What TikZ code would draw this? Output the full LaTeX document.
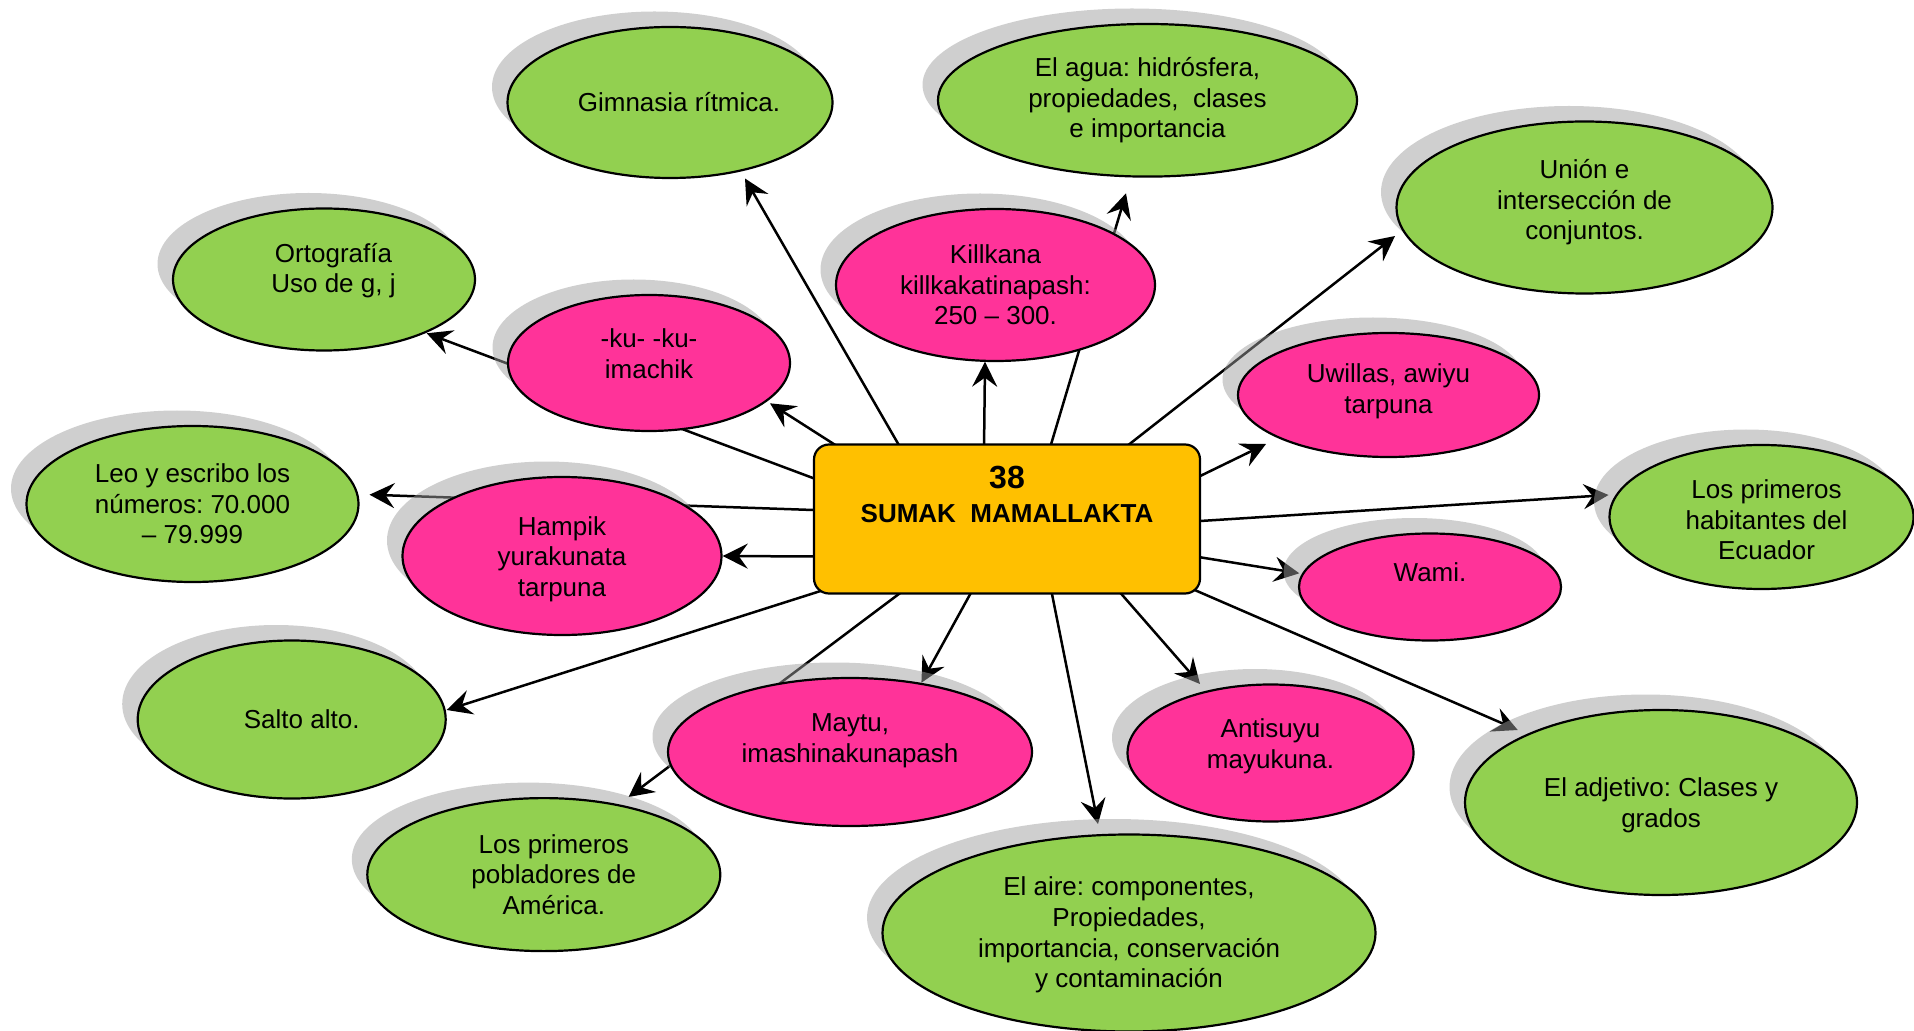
\documentclass[tikz,border=0pt]{standalone}
\usepackage{fontspec}
\setmainfont{Liberation Sans}
\frenchspacing
\usetikzlibrary{calc}
\usetikzlibrary{shadows}
\usetikzlibrary{shapes.geometric}
\usetikzlibrary{arrows.meta}
\definecolor{leafGreen}{RGB}{146,208,80}
\definecolor{rosePink}{RGB}{255,51,153}
\definecolor{boxGold}{RGB}{255,192,0}
\definecolor{shadowGray}{RGB}{158,158,158}
\pgfdeclarelayer{background}
\pgfdeclarelayer{foreground}
\pgfsetlayers{background,main,foreground}

\begin{document}
\begin{tikzpicture}[x=0.5pt,y=-0.5pt,
  blob/.style={ellipse, draw=black, line width=1.1pt, inner sep=0pt,
    drop shadow={shadow xshift=-7.75pt, shadow yshift=7.75pt, fill=shadowGray, opacity=0.49}},
  blobtext/.style={align=center, inner sep=0pt, font=\fontsize{13}{15.3}\selectfont},
  mainbox/.style={rectangle, rounded corners=7.5pt, draw=black, line width=1.1pt, fill=boxGold,
    inner sep=0pt, minimum width=193pt, minimum height=74.5pt},
  link/.style={line width=1.25pt, -{Stealth[length=12.5pt,width=12.5pt,inset=4.5pt]}},
  ]
\newcommand\Blob[9]{%
  \node[blob, fill=#2, minimum width=#5pt, minimum height=#6pt] (#1) at (#3,#4) {};
  \node[blobtext] (#1t) at ($(#1)+(#7,#8)$) {#9};}
\useasboundingbox (0,0) rectangle (1914,1031);

\Blob{gim}{leafGreen}{670}{102.5}{162.5}{75.5}{9}{0}{Gimnasia rítmica.}
\Blob{agua}{leafGreen}{1147.5}{100.3}{209.5}{76.3}{0}{0}{El agua: hidrósfera,\\propiedades,\ \ clases\\e importancia}
\Blob{union}{leafGreen}{1584.5}{207.5}{188}{86}{0}{-5}{Unión e\\intersección de\\conjuntos.}
\Blob{orto}{leafGreen}{324}{279.5}{151}{71}{9.5}{-9}{Ortografía\\Uso de g, j}
\Blob{kill}{rosePink}{995.5}{285}{159.5}{76}{0}{0}{Killkana\\killkakatinapash:\\250 – 300.}
\Blob{ku}{rosePink}{649}{363}{141}{68}{0}{-9}{-ku- -ku-\\imachik}
\Blob{uw}{rosePink}{1388.5}{395}{150.5}{62}{0}{-4}{Uwillas, awiyu\\tarpuna}
\Blob{leo}{leafGreen}{192.5}{504}{166}{78}{0}{0}{Leo y escribo los\\números: 70.000\\– 79.999}
\Blob{hampik}{rosePink}{562}{556}{159.5}{79}{0}{3}{Hampik\\yurakunata\\tarpuna}
\Blob{habit}{leafGreen}{1761.5}{517}{152}{72}{5}{3}{Los primeros\\habitantes del\\Ecuador}
\Blob{wami}{rosePink}{1430}{587}{131}{53.5}{0}{-14.5}{Wami.}
\Blob{salto}{leafGreen}{291.7}{719.5}{154}{79}{10}{0}{Salto alto.}
\Blob{maytu}{rosePink}{850}{752}{182}{74}{0}{-11.5}{Maytu,\\imashinakunapash}
\Blob{anti}{rosePink}{1270.5}{753}{143}{68.5}{0}{-7}{Antisuyu\\mayukuna.}
\Blob{adj}{leafGreen}{1661}{802.5}{196}{92.5}{0}{3}{El adjetivo: Clases y\\grados}
\Blob{pobl}{leafGreen}{543.8}{874.6}{176.5}{76.5}{10}{0}{Los primeros\\pobladores de\\América.}
\Blob{aire}{leafGreen}{1129}{933}{246.5}{98.5}{0}{2}{El aire: componentes,\\Propiedades,\\importancia, conservación\\y contaminación}

\node[mainbox] (box) at (1007,519) {};
\node[font=\fontsize{16}{19}\selectfont\bfseries, inner sep=0pt] (num) at (1007,478) {38};
\node[font=\fontsize{13}{15.3}\selectfont\bfseries, inner sep=0pt] (title) at (1007,514) {SUMAK\ \ MAMALLAKTA};

\begin{pgfonlayer}{background}
\draw[link] ($(box)+(-105,-68.5)$) -- ($(gim)+(75,76)$);
\draw[link] ($(box)+(-23,-69)$) -- ($(kill)+(-10.5,76.7)$);
\draw[link] ($(box)+(42.2,-68.5)$) -- ($(agua)+(-21.5,93)$);
\draw[link] ($(box)+(114.3,-68.5)$) -- ($(union)+(-189.5,28.5)$);
\draw[link] ($(box)+(-157,-64.6)$) -- ($(ku)+(121,40.3)$);
\draw[link] ($(box)+(-188,-38.7)$) -- ($(orto)+(102.7,53.8)$);
\draw[link] ($(box)+(-188,-8.8)$) -- ($(leo)+(177,-9.3)$);
\draw[link] ($(box)+(-188,37.5)$) -- ($(hampik)+(160.7,0)$);
\draw[link] ($(box)+(-177,69)$) -- ($(salto)+(155,-9.5)$);
\draw[link] ($(box)+(-101.5,70)$) -- ($(pobl)+(84.7,-77.6)$);
\draw[link] ($(box)+(-34,70)$) -- ($(maytu)+(71.4,-69.3)$);
\draw[link] ($(box)+(44,70)$) -- ($(aire)+(-31,-109)$);
\draw[link] ($(box)+(110,70)$) -- ($(anti)+(-70.5,-69)$);
\draw[link] ($(box)+(183,69)$) -- ($(adj)+(-143.3,-72.5)$);
\draw[link] ($(box)+(187,37.3)$) -- ($(wami)+(-130.7,-13.7)$);
\draw[link] ($(box)+(187,2.4)$) -- ($(habit)+(-153,-22)$);
\draw[link] ($(box)+(187,-40)$) -- ($(uw)+(-122.5,49)$);
\end{pgfonlayer}
\end{tikzpicture}
\end{document}
